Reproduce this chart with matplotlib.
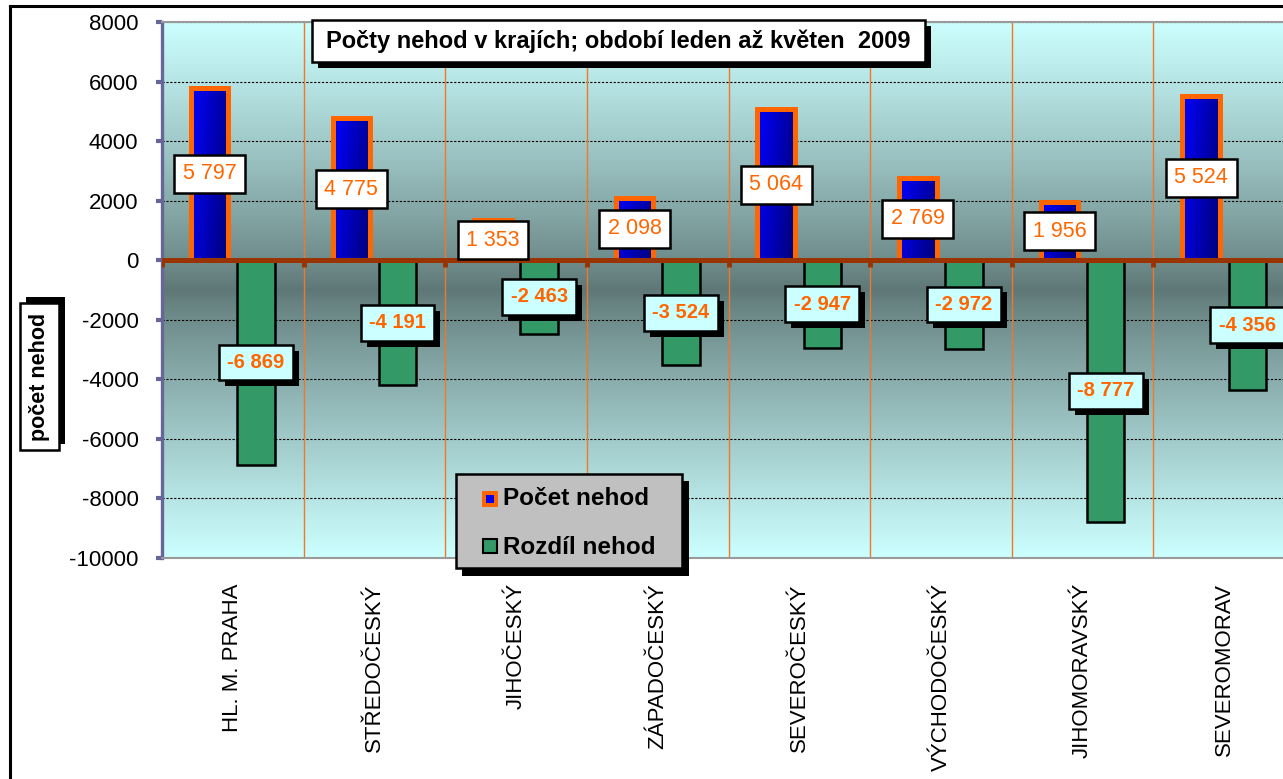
import numpy as np
import matplotlib
matplotlib.use("Agg")
import matplotlib.pyplot as plt
from matplotlib.patches import Rectangle
from matplotlib.lines import Line2D
from matplotlib.colors import LinearSegmentedColormap
import matplotlib.patheffects as pe

# ---------------- data ----------------
categories = ["HL. M. PRAHA", "STŘEDOČESKÝ", "JIHOČESKÝ", "ZÁPADOČESKÝ",
              "SEVEROČESKÝ", "VÝCHODOČESKÝ", "JIHOMORAVSKÝ", "SEVEROMORAV"]
pocet_nehod = [5797, 4775, 1353, 2098, 5064, 2769, 1956, 5524]
rozdil_nehod = [-6869, -4191, -2463, -3524, -2947, -2972, -8777, -4356]
yticks = [-10000, -8000, -6000, -4000, -2000, 0, 2000, 4000, 6000, 8000]
ytick_labels = [str(v) for v in yticks]
title_text = "Počty nehod v krajích; období leden až květen  2009"
ylabel_text = "počet nehod"
legend_labels = ["Počet nehod", "Rozdíl nehod"]

plt.rcParams["font.family"] = ["Liberation Sans", "DejaVu Sans"]
plt.rcParams["axes.unicode_minus"] = False

W, H = 1283, 779
fig = plt.figure(figsize=(W / 100, H / 100), dpi=100)
fig.patch.set_facecolor("white")


def fx(x):
    return x / W


def fy(y):
    return 1 - y / H


def fmt(v):
    return f"{v:,}".replace(",", " ")


# outer chart frame (only left/top visible)
fig.add_artist(Line2D([fx(10), fx(10)], [fy(6), fy(790)], color="black", lw=2.2))
fig.add_artist(Line2D([fx(10), fx(1290)], [fy(6), fy(6)], color="black", lw=2.2))

ax = fig.add_axes([fx(162), fy(558), 1133 / W, 536 / H])

# background gradient
f = np.linspace(0, 1, 400)
d = np.abs(f - 0.5) / 0.5
t = d ** 0.85
dark = np.array([0x5E, 0x77, 0x76]) / 255
light = np.array([0xCC, 0xFF, 0xFF]) / 255
bg = dark + (light - dark) * t[:, None]
ax.imshow(bg[:, None, :], extent=[0, 1, 0, 1], transform=ax.transAxes,
          aspect="auto", origin="lower", zorder=0, interpolation="bilinear")

n = len(categories)
x = np.arange(n)
bw = 0.265
off = 0.163

# grid
ax.set_yticks(yticks)
ax.yaxis.grid(True, color="black", ls=(0, (2, 1.5)), lw=0.8, zorder=1)
ax.set_axisbelow(True)
bounds = np.arange(-0.5, n + 0.5, 1.0)
ax.vlines(bounds[1:-1], -10000, 8000, colors="#F07828", lw=1.0, zorder=1)

# bars
b1 = ax.bar(x - off, pocet_nehod, width=bw, color="#0000FF", edgecolor="none", zorder=3)
gx, gy = np.meshgrid(np.linspace(0, 1, 32), np.linspace(0, 1, 64))
tg = 0.75 * gx + 0.25 * (1 - gy)
cmap = LinearSegmentedColormap.from_list("b", ["#0000FF", "#000078"])
for r in b1:
    x0, y0, w, h = r.get_x(), r.get_y(), r.get_width(), r.get_height()
    im = ax.imshow(tg, cmap=cmap, extent=[x0, x0 + w, y0, y0 + h], origin="lower",
                   aspect="auto", zorder=3.5, interpolation="bilinear")
    im.set_clip_path(r)
ax.bar(x - off, pocet_nehod, width=bw, facecolor="none", edgecolor="#FF6600",
       linewidth=3.6, zorder=4)
ax.bar(x + off, rozdil_nehod, width=bw, color="#339966", edgecolor="black",
       linewidth=1.8, zorder=3)

# zero line with small category ticks
ax.axhline(0, color="#993300", lw=3.6, zorder=5)
ax.vlines(bounds, -220, 0, colors="#993300", lw=3.5, zorder=5)

# data labels
for xi, v in zip(x, pocet_nehod):
    ax.text(xi - off, v / 2, fmt(v), ha="center", va="center", fontsize=15.5,
            color="#FF6600", zorder=8,
            bbox=dict(boxstyle="square,pad=0.4", fc="white", ec="black", lw=1.8))
for xi, v in zip(x, rozdil_nehod):
    tx = ax.text(xi + off, v / 2, fmt(v), ha="center", va="center", fontsize=14.5,
                 fontweight="bold", color="#FF6600", zorder=7,
                 bbox=dict(boxstyle="square,pad=0.42", fc="#CCFFFF", ec="black", lw=1.8))
    tx.get_bbox_patch().set_path_effects([
        pe.SimplePatchShadow(offset=(4.3, -4.3), shadow_rgbFace="black", alpha=1.0),
        pe.Normal()])

# axes styling
ax.set_xlim(-0.5, n - 0.5)
ax.set_ylim(-10000, 8000)
ax.set_yticklabels(ytick_labels)
ax.set_xticks(x)
ax.set_xticklabels(categories, rotation=90, va="top", ha="center")
ax.tick_params(axis="y", direction="out", length=4.5, width=3, color="#666699",
               labelsize=16, pad=12.5)
ax.tick_params(axis="x", length=0, pad=18, labelsize=16)
ax.spines["left"].set_color("#666699")
ax.spines["left"].set_linewidth(2.4)
for s in ("top", "bottom"):
    ax.spines[s].set_color("#9A9A9A")
    ax.spines[s].set_linewidth(1.5)
ax.spines["right"].set_visible(False)


def fig_rect(x0, y0, x1, y1, **kw):
    r = Rectangle((fx(x0), fy(y1)), (x1 - x0) / W, (y1 - y0) / H,
                  transform=fig.transFigure, **kw)
    fig.add_artist(r)
    return r


# title box
fig_rect(318, 26, 931, 68, fc="black", ec="black", lw=0, zorder=10)
fig_rect(312, 20, 925, 62, fc="white", ec="black", lw=1.8, zorder=11)
fig.text(fx(618.5), fy(41), title_text, ha="center", va="center", fontsize=17,
         fontweight="bold", zorder=12)

# y label box
fig_rect(26, 297, 65, 444, fc="black", ec="black", lw=0, zorder=10)
fig_rect(20, 303, 59, 450, fc="white", ec="black", lw=1.8, zorder=11)
fig.text(fx(39.5), fy(376.5), ylabel_text, ha="center", va="center", rotation=90,
         fontsize=15.5, fontweight="bold", zorder=12)

# legend
fig_rect(462, 481, 689, 576, fc="black", ec="black", lw=0, zorder=10)
fig_rect(456, 474, 682, 568, fc="#C0C0C0", ec="black", lw=1.8, zorder=11)
fig_rect(482, 491, 498, 507, fc="#FF6600", ec="none", zorder=12)
fig_rect(486, 495, 494, 503, fc="#0000EE", ec="none", zorder=13)
fig_rect(483, 539, 497, 553, fc="#339966", ec="black", lw=1.5, zorder=12)
fig.text(fx(503), fy(499), legend_labels[0], ha="left", va="center", fontsize=17.5,
         fontweight="bold", zorder=12)
fig.text(fx(503), fy(547), legend_labels[1], ha="left", va="center", fontsize=17.5,
         fontweight="bold", zorder=12)

fig.savefig("out.png", dpi=100)
